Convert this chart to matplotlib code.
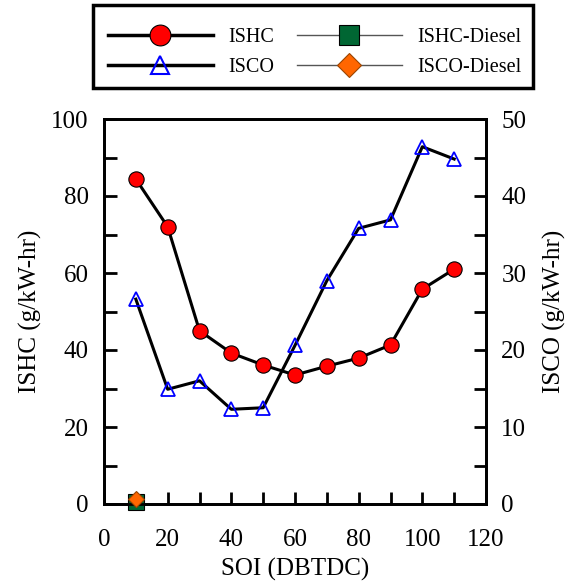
import matplotlib
matplotlib.use("Agg")
import matplotlib.pyplot as plt
from matplotlib.ticker import MultipleLocator
from matplotlib.lines import Line2D
from matplotlib.patches import Rectangle

plt.rcParams['font.family'] = ['Liberation Serif', 'DejaVu Serif']

soi = [10, 20, 30, 40, 50, 60, 70, 80, 90, 100, 110]
ishc = [84.4, 72.0, 45.0, 39.2, 36.1, 33.5, 35.8, 37.9, 41.3, 55.8, 61.0]
isco = [26.6, 14.9, 16.0, 12.3, 12.5, 20.6, 29.0, 35.8, 36.9, 46.4, 44.8]
diesel_soi = [10]
ishc_diesel = [0.6]
isco_diesel = [0.6]

W, H = 565, 584
fig = plt.figure(figsize=(W/100, H/100), dpi=100)
ax = fig.add_axes([104/W, 1-504/H, (486-104)/W, (504-119)/H])
ax2 = ax.twinx()

lw = 2.2
ax.plot(soi, ishc, color='black', lw=lw, marker='o', ms=11, mfc='red', mec='black', mew=0.8, zorder=3)
ax2.plot(soi, isco, color='black', lw=lw, marker='^', ms=10, mfc='none', mec='blue', mew=1.3, zorder=3)
ax.plot(diesel_soi, ishc_diesel, color='gray', lw=1, marker='s', ms=11, mfc='#006633', mec='black', mew=0.8, zorder=4, clip_on=False)
ax2.plot(diesel_soi, isco_diesel, color='gray', lw=1, marker='D', ms=8, mfc='#FF6600', mec='#994400', mew=0.8, zorder=5, clip_on=False)

ax.set_xlim(0, 120)
ax.set_ylim(0, 100)
ax2.set_ylim(0, 50)
ax.xaxis.set_major_locator(MultipleLocator(20))
ax.xaxis.set_minor_locator(MultipleLocator(10))
ax.yaxis.set_major_locator(MultipleLocator(20))
ax.yaxis.set_minor_locator(MultipleLocator(10))
ax2.yaxis.set_major_locator(MultipleLocator(10))
ax2.yaxis.set_minor_locator(MultipleLocator(5))

fs = 18
for a in (ax, ax2):
    for s in a.spines.values():
        s.set_linewidth(2.0)
    a.tick_params(which='both', direction='in', width=2.0, labelsize=fs, pad=11)
    a.tick_params(which='major', length=9)
    a.tick_params(which='minor', length=9)
ax.tick_params(axis='x', which='both', top=False, pad=18)
ax.tick_params(axis='y', which='both', right=False)

ax.set_xlabel('SOI (DBTDC)', fontsize=fs, labelpad=5)
ax.set_ylabel('ISHC (g/kW-hr)', fontsize=fs, labelpad=7)
ax2.set_ylabel('ISCO (g/kW-hr)', fontsize=fs, labelpad=12)

# legend frame
fig.patches.append(Rectangle((93/W, 1-88/H), (533-93)/W, (88-5)/H,
                             transform=fig.transFigure, fill=False,
                             edgecolor='black', lw=2.5, zorder=10))

handles = [
    Line2D([], [], color='black', lw=2.5, marker='o', ms=15, mfc='red', mec='black', mew=0.8),
    Line2D([], [], color='black', lw=2.5, marker='^', ms=13, mfc='none', mec='blue', mew=1.5),
    Line2D([], [], color='#555555', lw=1, marker='s', ms=15, mfc='#006633', mec='black', mew=0.8),
    Line2D([], [], color='#555555', lw=1, marker='D', ms=12, mfc='#FF6600', mec='#994400', mew=0.8),
]
labels = ['ISHC', 'ISCO', 'ISHC-Diesel', 'ISCO-Diesel']
leg = fig.legend(handles, labels, ncol=2, loc='center',
                 bbox_to_anchor=(315/W, 1-52.5/H),
                 fontsize=14.5, frameon=False,
                 handlelength=5.2, handletextpad=0.8,
                 columnspacing=1.1, borderpad=0.0, labelspacing=0.5)

fig.savefig('out.png', dpi=100)
